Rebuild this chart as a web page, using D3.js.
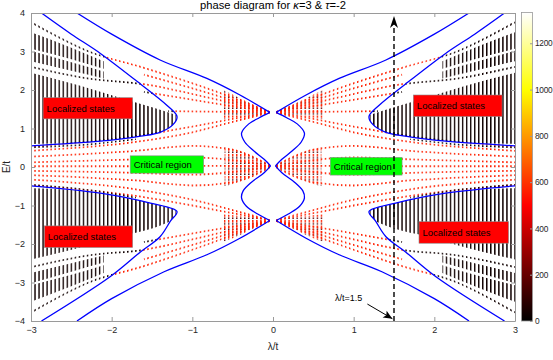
<!DOCTYPE html>
<html>
<head>
<meta charset="utf-8">
<script src="https://cdn.jsdelivr.net/npm/d3@7"></script>
<style>
  body { margin: 0; background: #fff; }
  svg { display: block; font-family: "Liberation Sans", Arial, sans-serif; }
</style>
</head>
<body>
<svg id="chart" width="553" height="360"></svg>
<script>
// ticks
const lambdaTicks = [-3, -2, -1, 0, 1, 2, 3];
const energyTicks = [-4, -3, -2, -1, 0, 1, 2, 3, 4];
const colorTicks = [0, 200, 400, 600, 800, 1000, 1200];
const colorMax = 1333;
const lambdaStep = 0.05;

// mobility edges, left half, [E, lambda] (right half is the mirror image)
const outerTop = [[4, -2.43], [3.45, -2.0], [2.78, -1.4], [2.3, -0.82], [1.87, -0.41], [1.42, -0.04]];
const loopTop = [[1.42, -0.04], [1.28, -0.17], [1.12, -0.3], [0.88, -0.39], [0.65, -0.35], [0.42, -0.24], [0.2, -0.11], [0.03, -0.03]];
const loopBottom = [[0.03, -0.03], [-0.15, -0.11], [-0.4, -0.27], [-0.62, -0.37], [-0.8, -0.39], [-1.02, -0.33], [-1.22, -0.19], [-1.39, -0.04]];
const outerBottom = [[-1.39, -0.04], [-1.85, -0.41], [-2.28, -0.82], [-2.72, -1.35], [-3.42, -2.0], [-4, -2.43]];
const innerUp = [[4, -2.87], [3.45, -2.5], [2.95, -2.14], [2.15, -1.64], [1.61, -1.32], [1.31, -1.19], [1.1, -1.24], [0.9, -1.4], [0.8, -1.64], [0.67, -2.14], [0.55, -3]];
const innerDown = [[-0.49, -3], [-0.68, -2.14], [-0.94, -1.52], [-1.16, -1.19], [-1.4, -1.27], [-1.81, -1.4], [-2.2, -1.64], [-2.85, -2.02], [-4, -2.87]];

// dense (localized) bands, left half, [lambda, Elow, Ehigh]
const bandsUp = [
  [[-3, 0.6, 2.45], [-2.4, 0.63, 2.12], [-1.9, 0.7, 1.8], [-1.5, 0.82, 1.55], [-1.2, 1.0, 1.35]],
  [[-3, 2.75, 3.02], [-2.5, 2.5, 2.72], [-2.1, 2.3, 2.48]],
  [[-3, 3.07, 3.5], [-2.5, 2.8, 3.1], [-2.1, 2.55, 2.75]]
];
const bandsDown = [
  [[-3, -2.4, -0.55], [-2.4, -2.1, -0.6], [-1.9, -1.8, -0.7], [-1.5, -1.6, -0.85], [-1.2, -1.35, -1.05]],
  [[-3, -3.02, -2.75], [-2.5, -2.72, -2.5], [-2.1, -2.48, -2.3]],
  [[-3, -3.5, -3.07], [-2.5, -3.1, -2.8], [-2.1, -2.75, -2.55]]
];
// dense critical wedges next to the band centres, left half, [lambda, Elow, Ehigh]
const wedges = [
  [[-0.62, 1.25, 2.0], [-0.42, 1.3, 1.8], [-0.22, 1.35, 1.6], [-0.03, 1.41, 1.44]],
  [[-0.6, -0.5, 0.52], [-0.42, -0.38, 0.42], [-0.22, -0.2, 0.25], [-0.03, 0.0, 0.05]],
  [[-0.62, -1.95, -1.22], [-0.42, -1.78, -1.27], [-0.22, -1.58, -1.32], [-0.03, -1.41, -1.38]]
];

// eigenvalue rows, left half, [lambda, E]
const rowsUp = [
  [[-3, 3.76], [-2.26, 2.98], [-1.64, 2.6], [-0.8, 2.03], [-0.03, 1.42]],
  [[-3, 2.6], [-2.3, 2.3], [-1.6, 2.15], [-0.8, 1.8], [-0.03, 1.42]],
  [[-1.6, 2.4], [-0.8, 1.92], [-0.03, 1.42]],
  [[-1.6, 1.95], [-0.8, 1.68], [-0.03, 1.42]],
  [[-1.3, 1.45], [-0.8, 1.44], [-0.03, 1.42]],
  [[-3, 0.53], [-1.7, 0.8], [-1.0, 1.05], [-0.5, 1.25], [-0.03, 1.42]],
  [[-3, 0.42], [-1.7, 0.65], [-1.0, 0.9], [-0.5, 1.17], [-0.03, 1.42]]
];
const rowsMid = [
  [[-3, 0.27], [-1.7, 0.42], [-1.0, 0.55], [-0.5, 0.45], [-0.03, 0.03]],
  [[-3, 0.12], [-1.7, 0.2], [-1.0, 0.25], [-0.5, 0.18], [-0.03, 0.02]],
  [[-3, 0.02], [-1.7, 0.02], [-1.0, 0.03], [-0.03, 0.02]],
  [[-3, -0.1], [-1.7, -0.15], [-1.0, -0.2], [-0.5, -0.13], [-0.03, 0.01]],
  [[-3, -0.21], [-1.7, -0.35], [-1.0, -0.48], [-0.5, -0.4], [-0.03, 0.0]]
];
const rowsDown = [
  [[-3, -3.78], [-2.26, -2.98], [-1.64, -2.6], [-0.8, -2.0], [-0.03, -1.39]],
  [[-3, -2.6], [-2.3, -2.3], [-1.6, -2.15], [-0.8, -1.78], [-0.03, -1.39]],
  [[-1.6, -2.4], [-0.8, -1.9], [-0.03, -1.39]],
  [[-1.6, -1.95], [-0.8, -1.65], [-0.03, -1.39]],
  [[-3, -0.47], [-1.7, -0.75], [-1.0, -1.0], [-0.5, -1.2], [-0.03, -1.39]],
  [[-3, -0.33], [-1.7, -0.58], [-1.0, -0.85], [-0.5, -1.12], [-0.03, -1.39]]
];
// dark rows that run just inside the critical region along the inner edges
const rowsDark = [
  [[-3, 0.51], [-2.2, 0.6], [-1.7, 0.72]],
  [[-3, -0.46], [-2.2, -0.62], [-1.7, -0.8]]
];
const darkValue = 30;
const redValue = 560;

const svg = d3.select("#chart");
const x = d3.scaleLinear().domain([-3, 3]).range([31, 515]);
const y = d3.scaleLinear().domain([-4, 4]).range([321, 13]);
const cy = d3.scaleLinear().domain([0, colorMax]).range([321, 12.5]);
const hot = d3.scaleLinear()
  .domain([0, colorMax * 3 / 8, colorMax * 3 / 4, colorMax])
  .range(["#000000", "#ff0000", "#ffff00", "#ffffff"]);

const mirror = pts => pts.map(p => [-p[0], p[1]]).reverse();
const mirrorBand = b => b.map(d => [-d[0], d[1], d[2]]).reverse();

const defs = svg.append("defs");
const colW = x(lambdaStep) - x(0);

function colPattern(id) {
  return defs.append("pattern")
    .attr("id", id)
    .attr("patternUnits", "userSpaceOnUse")
    .attr("x", x(-3) - 0.7).attr("y", 0)
    .attr("width", colW);
}
colPattern("colsDark").attr("height", 360)
  .append("rect").attr("width", 1.4).attr("height", 360).attr("fill", hot(darkValue));
colPattern("colsRed").attr("height", 360)
  .append("rect").attr("width", 1.4).attr("height", 360).attr("fill", hot(redValue));
const mixed = colPattern("colsMixed").attr("height", 5.5);
mixed.append("rect").attr("width", 1.4).attr("height", 2.4).attr("fill", hot(redValue));
mixed.append("rect").attr("y", 3.1).attr("width", 1.4).attr("height", 1.5).attr("fill", hot(darkValue + 150));

// curves in [E, lambda] form
const edgeLine = d3.line().x(d => x(d[1])).y(d => y(d[0])).curve(d3.curveCatmullRom.alpha(0.5));
const flipLam = pts => pts.map(p => [p[0], -p[1]]);

// localized lobes: region outside the inner mobility edges
function lobePath(pts, cornerE, cornerL) {
  return edgeLine(pts) + "L" + x(cornerL) + "," + y(cornerE) + "Z";
}
const lobes = [
  lobePath(innerUp, 4, -3),
  lobePath(innerDown, -4, -3),
  lobePath(flipLam(innerUp), 4, 3),
  lobePath(flipLam(innerDown), -4, 3)
];
defs.append("clipPath").attr("id", "locClip")
  .append("path").attr("d", lobes.join(""));
defs.append("clipPath").attr("id", "critClip")
  .append("path").attr("clip-rule", "evenodd")
  .attr("d", "M" + x(-3) + "," + y(4) + "H" + x(3) + "V" + y(-4) + "H" + x(-3) + "Z" + lobes.join(""));
defs.append("clipPath").attr("id", "plotClip")
  .append("rect").attr("x", x(-3)).attr("y", y(4)).attr("width", x(3) - x(-3)).attr("height", y(-4) - y(4));

// dots
const bandArea = d3.area().x(d => x(d[0])).y0(d => y(d[1])).y1(d => y(d[2])).curve(d3.curveMonotoneX);
const rowLine = d3.line().x(d => x(d[0])).y(d => y(d[1])).curve(d3.curveMonotoneX);

const gDots = svg.append("g").attr("clip-path", "url(#plotClip)");
const allBands = bandsUp.concat(bandsDown);
const bandsBoth = allBands.concat(allBands.map(mirrorBand));
const wedgesBoth = wedges.concat(wedges.map(mirrorBand));
const allRows = rowsUp.concat(rowsMid, rowsDown);
const rowsBoth = allRows.concat(allRows.map(mirror));
const darkBoth = rowsDark.concat(rowsDark.map(mirror));

const gLoc = gDots.append("g").attr("clip-path", "url(#locClip)");
gLoc.selectAll("path.band").data(bandsBoth).join("path")
  .attr("class", "band").attr("d", bandArea).attr("fill", "url(#colsDark)");
gLoc.selectAll("path.row").data(rowsBoth).join("path")
  .attr("class", "row").attr("d", rowLine).attr("fill", "none")
  .attr("stroke", "url(#colsDark)").attr("stroke-width", 1.8);

const gCrit = gDots.append("g").attr("clip-path", "url(#critClip)");
gCrit.selectAll("path.wedge").data(wedgesBoth).join("path")
  .attr("class", "wedge").attr("d", bandArea).attr("fill", "url(#colsMixed)");
gCrit.selectAll("path.row").data(rowsBoth).join("path")
  .attr("class", "row").attr("d", rowLine).attr("fill", "none")
  .attr("stroke", "url(#colsRed)").attr("stroke-width", 1.8);
gCrit.selectAll("path.dark").data(darkBoth).join("path")
  .attr("class", "dark").attr("d", rowLine).attr("fill", "none")
  .attr("stroke", "url(#colsDark)").attr("stroke-width", 1.6);

// mobility edges
const edges = [outerTop, loopTop, loopBottom, outerBottom, innerUp, innerDown];
const edgesBoth = edges.concat(edges.map(flipLam));
gDots.selectAll("path.edge").data(edgesBoth).join("path")
  .attr("class", "edge").attr("d", edgeLine)
  .attr("fill", "none").attr("stroke", "#0000ff").attr("stroke-width", 1.3);

// axes box
const axisColor = "#9a9a9a";
const textColor = "#262626";
function styleAxis(g) {
  g.select(".domain").attr("stroke", axisColor);
  g.selectAll(".tick line").attr("stroke", axisColor);
  g.selectAll(".tick text").attr("fill", textColor).attr("font-size", 9);
}
svg.append("g").attr("transform", `translate(0,${y(-4)})`)
  .call(d3.axisBottom(x).tickValues(lambdaTicks).tickFormat(d3.format("d")).tickSizeInner(-4).tickSizeOuter(0).tickPadding(6))
  .call(styleAxis);
svg.append("g").attr("transform", `translate(0,${y(4)})`)
  .call(d3.axisTop(x).tickValues(lambdaTicks).tickFormat("").tickSizeInner(-4).tickSizeOuter(0))
  .call(styleAxis);
svg.append("g").attr("transform", `translate(${x(-3)},0)`)
  .call(d3.axisLeft(y).tickValues(energyTicks).tickFormat(d3.format("d")).tickSizeInner(-4).tickSizeOuter(0).tickPadding(6))
  .call(styleAxis);
svg.append("g").attr("transform", `translate(${x(3)},0)`)
  .call(d3.axisRight(y).tickValues(energyTicks).tickFormat("").tickSizeInner(-4).tickSizeOuter(0))
  .call(styleAxis);
svg.selectAll(".tick text").attr("font-family", "Liberation Sans, Arial, sans-serif");

// axis labels and title
svg.append("text").attr("x", x(0)).attr("y", 350).attr("text-anchor", "middle")
  .attr("font-size", 10).attr("fill", textColor).text("λ/t");
svg.append("text").attr("transform", `translate(10,${y(0)}) rotate(-90)`).attr("text-anchor", "middle")
  .attr("font-size", 10).attr("fill", textColor).text("E/t");
const title = svg.append("text").attr("x", x(0)).attr("y", 8.8).attr("text-anchor", "middle")
  .attr("font-size", 11.2).attr("fill", "#000");
title.append("tspan").text("phase diagram for ");
title.append("tspan").attr("font-style", "italic").text("κ");
title.append("tspan").text("=3 & ");
title.append("tspan").attr("font-style", "italic").text("τ");
title.append("tspan").text("=-2");

// colorbar
const grad = defs.append("linearGradient").attr("id", "hotGrad")
  .attr("x1", 0).attr("y1", 1).attr("x2", 0).attr("y2", 0);
hot.domain().forEach((v, i) => grad.append("stop").attr("offset", v / colorMax).attr("stop-color", hot.range()[i]));
svg.append("rect").attr("x", 521.5).attr("y", cy(colorMax)).attr("width", 11)
  .attr("height", cy(0) - cy(colorMax)).attr("fill", "url(#hotGrad)")
  .attr("stroke", axisColor).attr("stroke-width", 0.8);
const cbAxis = svg.append("g").attr("transform", "translate(532.5,0)")
  .call(d3.axisRight(cy).tickValues(colorTicks).tickFormat(d3.format("d")).tickSizeInner(-2.5).tickSizeOuter(0).tickPadding(2.5))
  .call(styleAxis);
cbAxis.select(".domain").remove();
cbAxis.selectAll(".tick text").attr("font-size", 8.3).attr("letter-spacing", -0.3);

// annotations
function box(l0, l1, e0, e1, fill, label) {
  svg.append("rect").attr("x", x(l0)).attr("y", y(e0)).attr("width", x(l1) - x(l0)).attr("height", y(e1) - y(e0))
    .attr("fill", fill).attr("stroke", "#8a8a8a").attr("stroke-width", 0.6);
  svg.append("text").attr("x", x(l0) + 3.5).attr("y", (y(e0) + y(e1)) / 2 + 3.3)
    .attr("font-size", 9.5).attr("fill", "#000").text(label);
}
box(-2.85, -1.74, 1.8, 1.25, "#ff0000", "Localized states");
box(-2.835, -1.74, -1.53, -2.09, "#ff0000", "Localized states");
box(1.74, 2.84, 1.87, 1.31, "#ff0000", "Localized states");
box(1.81, 2.92, -1.42, -1.98, "#ff0000", "Localized states");
box(-1.77, -0.86, 0.29, -0.16, "#00ff00", "Critical region");
box(0.71, 1.6, 0.25, -0.21, "#00ff00", "Critical region");

// dashed marker at lambda/t = 1.5
svg.append("line").attr("x1", x(1.5)).attr("x2", x(1.5)).attr("y1", y(-4)).attr("y2", y(3.7))
  .attr("stroke", "#000").attr("stroke-width", 1.4).attr("stroke-dasharray", "5,3");
svg.append("path")
  .attr("d", `M${x(1.5) - 4},${y(3.92) + 12}L${x(1.5)},${y(3.92)}L${x(1.5) + 4},${y(3.92) + 12}L${x(1.5)},${y(3.92) + 8.5}Z`)
  .attr("fill", "#000");
svg.append("text").attr("x", x(0.77)).attr("y", y(-3.47)).attr("font-size", 9).attr("fill", "#000").text("λ/t=1.5");
const ax0 = [x(1.17), y(-3.56)], ax1 = [x(1.48), y(-3.94)];
svg.append("line").attr("x1", ax0[0]).attr("y1", ax0[1]).attr("x2", ax1[0]).attr("y2", ax1[1])
  .attr("stroke", "#000").attr("stroke-width", 1);
const ang = Math.atan2(ax1[1] - ax0[1], ax1[0] - ax0[0]);
svg.append("path").attr("transform", `translate(${ax1[0]},${ax1[1]}) rotate(${ang * 180 / Math.PI})`)
  .attr("d", "M0,0L-9,-4L-7,0L-9,4Z").attr("fill", "#000");
</script>
</body>
</html>
